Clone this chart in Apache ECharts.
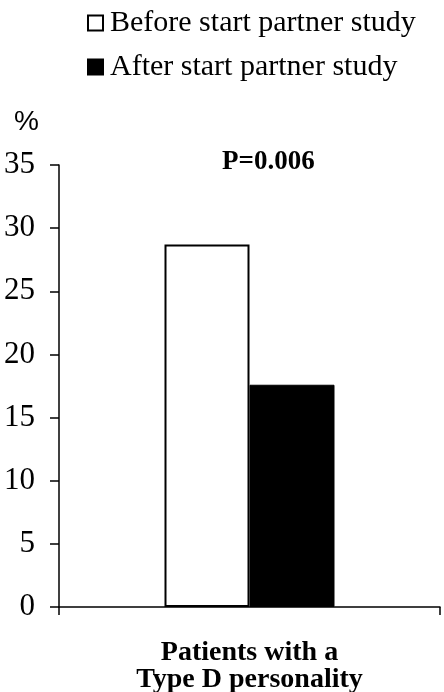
<html>
	<head>
		<meta charset="utf-8">
		<script type="text/javascript" src="https://cdn.jsdelivr.net/npm/echarts@6/dist/echarts.min.js"></script>
	</head>
	<body style="margin: 0; padding: 0; background: #fff;">
		<div id="myChart" style="height: 692px; width: 444px; margin: 0; padding: 0;"></div>
		<script type="text/javascript">
			var serif = "'Liberation Serif', 'Times New Roman', serif";
			var categories = ['Patients with a\nType D personality'];
			var seriesNames = ['Before start partner study', 'After start partner study'];
			var beforeValues = [28.7];
			var afterValues = [17.6];
			var pText = 'P=0.006';

			var option = {
				animation: false,
				backgroundColor: '#fff',
				legend: {
					orient: 'vertical',
					left: 82,
					top: 3,
					itemWidth: 15,
					itemHeight: 15,
					itemGap: 14,
					icon: 'rect',
					data: seriesNames,
					textStyle: {
						fontFamily: serif,
						fontSize: 30,
						padding: [0, 0, 0, 2],
						color: '#000'
					}
				},
				graphic: [
					{type: 'text', left: 14, top: 108, style: {text: '%', font: "28px 'Liberation Sans', Arial, sans-serif", fill: '#000'}},
					{type: 'text', left: 222, top: 149, style: {text: pText, font: "bold 27px " + serif, fill: '#000'}}
				],
				grid: {
					top: 165,
					left: 59,
					right: 4,
					bottom: 85,
					outerBoundsMode: 'none'
				},
				xAxis: [
					{
						type: 'category',
						data: categories,
						axisLine: {lineStyle: {color: '#000', width: 1.5}},
						axisTick: {show: true, length: 8, lineStyle: {color: '#000', width: 1.5}},
						axisLabel: {
							margin: 32,
							fontFamily: serif,
							fontWeight: 'bold',
							fontSize: 28,
							lineHeight: 27,
							color: '#000'
						}
					}
				],
				yAxis: [
					{
						type: 'value',
						min: 0,
						max: 35,
						interval: 5,
						splitLine: {show: false},
						axisLine: {show: true, lineStyle: {color: '#000', width: 1.5}},
						axisTick: {show: true, length: 9, lineStyle: {color: '#000', width: 1.5}},
						axisLabel: {
							margin: 24,
							fontFamily: serif,
							fontSize: 31,
							color: '#000'
						}
					}
				],
				series: [
					{
						name: seriesNames[0],
						type: 'bar',
						barWidth: 85,
						barGap: 0,
						data: beforeValues,
						itemStyle: {color: '#fff', borderColor: '#000', borderWidth: 2}
					},
					{
						name: seriesNames[1],
						type: 'bar',
						barWidth: 85,
						barGap: 0,
						data: afterValues,
						itemStyle: {color: '#000', borderColor: '#000', borderWidth: 1}
					}
				]
			};
			echarts.init(document.getElementById('myChart')).setOption(option, false);
		</script>
	</body>
</html>
